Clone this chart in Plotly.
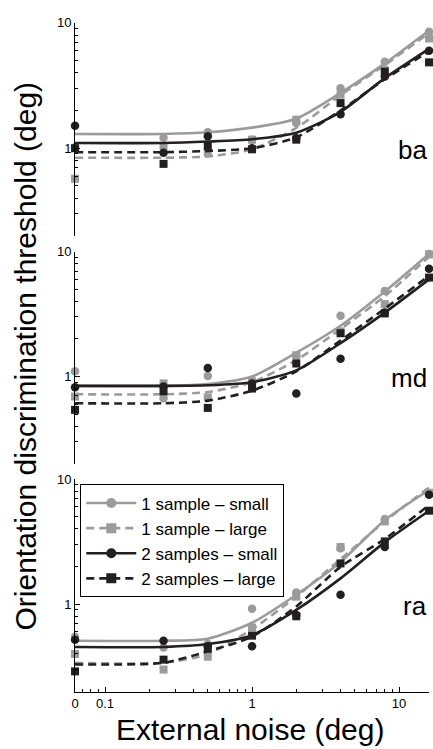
import numpy as np
import plotly.graph_objects as go

# ---------------- data ----------------
noise = [0.0625, 0.25, 0.5, 1, 2, 4, 8, 16]          # 0.0625 plotted as "0"
x_tickvals = [0.0625, 0.1, 1, 10]
x_ticktext = ["0", "0.1", "1", "10"]
y_tickvals = [1, 10]
y_ticktext = ["1", "10"]
observers = ["ba", "md", "ra"]
series_names = ["1 sample \u2013 small", "1 sample \u2013 large",
                "2 samples \u2013 small", "2 samples \u2013 large"]

# measured thresholds (deg): [1s-small, 1s-large, 2s-small, 2s-large]
ba_data = [
    [1.02, 1.21, 1.34, 1.17, 1.59, 3.01, 4.9, 8.5],
    [0.57, 1.04, 0.92, 1.17, 1.69, 2.67, 4.2, 7.5],
    [1.51, 0.92, 1.245, 1.0, 1.2, 1.87, 3.73, 6.0],
    [1.0, 0.75, 1.04, 0.98, 1.17, 2.29, 4.08, 4.84],
]
ba_fit = [
    [1.30, 1.30, 1.34, 1.46, 1.72, 2.76, 4.75, 8.7],
    [0.84, 0.84, 0.86, 0.98, 1.45, 2.65, 4.6, 8.3],
    [1.10, 1.10, 1.13, 1.18, 1.33, 1.95, 3.62, 6.2],
    [0.93, 0.93, 0.95, 1.0, 1.22, 2.0, 3.55, 5.9],
]
md_data = [
    [1.10, 0.67, 1.01, 0.93, 1.45, 3.06, 4.84, 9.6],
    [0.69, 0.88, 0.68, 0.91, 1.48, 2.3, 3.8, 9.5],
    [0.82, 0.83, 1.17, 0.88, 0.73, 1.39, 3.25, 7.3],
    [0.54, 0.76, 0.56, 0.80, 1.27, 2.22, 3.2, 6.2],
]
md_fit = [
    [0.84, 0.84, 0.87, 1.0, 1.55, 2.55, 4.8, 9.6],
    [0.72, 0.72, 0.75, 0.90, 1.35, 2.4, 4.4, 9.1],
    [0.84, 0.84, 0.85, 0.90, 1.12, 1.85, 3.25, 6.0],
    [0.61, 0.61, 0.64, 0.77, 1.10, 1.94, 3.5, 6.4],
]
ra_data = [
    [0.55, 0.45, 0.48, 0.92, 1.24, 2.8, 4.8, 7.6],
    [0.40, 0.30, 0.38, 0.65, 1.15, 2.87, 4.6, 7.8],
    [0.52, 0.51, 0.46, 0.46, 0.82, 1.19, 2.87, 7.5],
    [0.29, 0.36, 0.44, 0.56, 0.80, 2.12, 3.18, 5.6],
]
ra_fit = [
    [0.51, 0.51, 0.53, 0.71, 1.19, 2.18, 4.7, 8.2],
    [0.34, 0.34, 0.40, 0.63, 1.15, 2.3, 4.6, 8.6],
    [0.455, 0.455, 0.48, 0.565, 0.90, 1.61, 3.14, 5.6],
    [0.33, 0.34, 0.42, 0.55, 0.96, 1.99, 3.33, 6.2],
]
panel_data = [ba_data, md_data, ra_data]
panel_fit = [ba_fit, md_fit, ra_fit]

# ---------------- style ----------------
GRAY = "#9b9b9b"
BLACK = "#231f20"
colors = [GRAY, GRAY, BLACK, BLACK]
symbols = ["circle", "square", "circle", "square"]
dashes = ["solid", "8px,5px", "solid", "8px,5px"]
msizes = [8.5, 8, 8.5, 8]
FONT = "Liberation Sans, Arial, Helvetica, sans-serif"

W, H = 433, 749
def px_x(p):
    return p / W
def px_y(p):
    return 1 - p / H

x_dom = [px_x(71.7), px_x(429)]
y_doms = [[px_y(231), px_y(16)], [px_y(461), px_y(247)], [px_y(691), px_y(476.7)]]

fig = go.Figure()

for k in range(3):
    xa = "x" if k == 0 else f"x{k+1}"
    ya = "y" if k == 0 else f"y{k+1}"
    for s in range(4):
        fig.add_trace(go.Scatter(
            x=noise, y=panel_fit[k][s], mode="lines", xaxis=xa, yaxis=ya,
            line=dict(color=colors[s], width=2.6, dash=dashes[s], shape="spline", smoothing=0.7),
            showlegend=False, hoverinfo="skip", cliponaxis=False))
        fig.add_trace(go.Scatter(
            x=noise, y=panel_data[k][s], mode="markers", xaxis=xa, yaxis=ya,
            marker=dict(color=colors[s], symbol=symbols[s], size=msizes[s], line=dict(width=0)),
            showlegend=False, cliponaxis=False))

# legend entries
for s in range(4):
    fig.add_trace(go.Scatter(
        x=[None], y=[None], mode="lines+markers", xaxis="x3", yaxis="y3",
        name=series_names[s],
        line=dict(color=colors[s], width=2.6, dash=dashes[s]),
        marker=dict(color=colors[s], symbol=symbols[s], size=10, line=dict(width=0))))

minor_y = [0.2, 0.3, 0.4, 0.5, 0.6, 0.7, 0.8, 0.9, 2, 3, 4, 5, 6, 7, 8, 9]
minor_x = [0.07, 0.08, 0.09, 0.2, 0.3, 0.4, 0.5, 0.6, 0.7, 0.8, 0.9,
           2, 3, 4, 5, 6, 7, 8, 9]

xrange_ = [np.log10(noise[0]), np.log10(noise[-1])]
yrange_ = [np.log10(0.2), 1]

layout = dict(
    width=W, height=H, margin=dict(l=0, r=0, t=0, b=0),
    paper_bgcolor="white", plot_bgcolor="white",
    font=dict(family=FONT, size=13, color="black"),
    showlegend=True,
    legend=dict(x=px_x(77), y=px_y(482), xanchor="left", yanchor="top",
                bgcolor="white", bordercolor="black", borderwidth=1,
                font=dict(family=FONT, size=17, color="black"),
                itemwidth=50, tracegroupgap=0),
)
for k in range(3):
    xname = "xaxis" if k == 0 else f"xaxis{k+1}"
    yname = "yaxis" if k == 0 else f"yaxis{k+1}"
    yanchor = "y" if k == 0 else f"y{k+1}"
    xanchor = "x" if k == 0 else f"x{k+1}"
    if k < 2:
        layout[xname] = dict(domain=x_dom, anchor=yanchor, type="log", range=xrange_,
                             visible=False, showgrid=False, zeroline=False)
    else:
        layout[xname] = dict(domain=x_dom, anchor=yanchor, type="log", range=xrange_,
                             tickmode="array", tickvals=x_tickvals, ticktext=x_ticktext,
                             ticks="inside", ticklen=5, tickcolor="black",
                             showline=True, linecolor="black", linewidth=1,
                             showgrid=False, zeroline=False,
                             tickfont=dict(size=13),
                             minor=dict(tickmode="array", tickvals=minor_x, ticks="inside",
                                        ticklen=3, tickcolor="black", showgrid=False))
    layout[yname] = dict(domain=y_doms[k], anchor=xanchor, type="log", range=yrange_,
                         tickmode="array", tickvals=y_tickvals, ticktext=y_ticktext,
                         ticks="inside", ticklen=5, tickcolor="black",
                         showline=True, linecolor="black", linewidth=1,
                         showgrid=False, zeroline=False, tickfont=dict(size=13),
                         minor=dict(tickmode="array", tickvals=minor_y, ticks="inside",
                                    ticklen=3, tickcolor="black", showgrid=False))

fig.update_layout(**layout)

# observer labels
label_y = [144, 375, 605]
for k in range(3):
    fig.add_annotation(text=observers[k], xref="paper", yref="paper",
                       x=px_x(429), y=px_y(label_y[k]), xanchor="right", yanchor="middle",
                       showarrow=False, font=dict(family=FONT, size=26, color="black"))

# axis titles
fig.add_annotation(text="Orientation discrimination threshold (deg)", xref="paper", yref="paper",
                   x=px_x(22), y=px_y(352), xanchor="center", yanchor="middle", textangle=-90,
                   showarrow=False, font=dict(family=FONT, size=30, color="black"))
fig.add_annotation(text="External noise (deg)", xref="paper", yref="paper",
                   x=px_x(248), y=px_y(729), xanchor="center", yanchor="middle",
                   showarrow=False, font=dict(family=FONT, size=30, color="black"))

fig.write_html("out.html", config={"displayModeBar": False},
               post_script="document.body.style.margin='0px';document.body.style.padding='0px';"
                           "document.documentElement.style.overflow='hidden';")
